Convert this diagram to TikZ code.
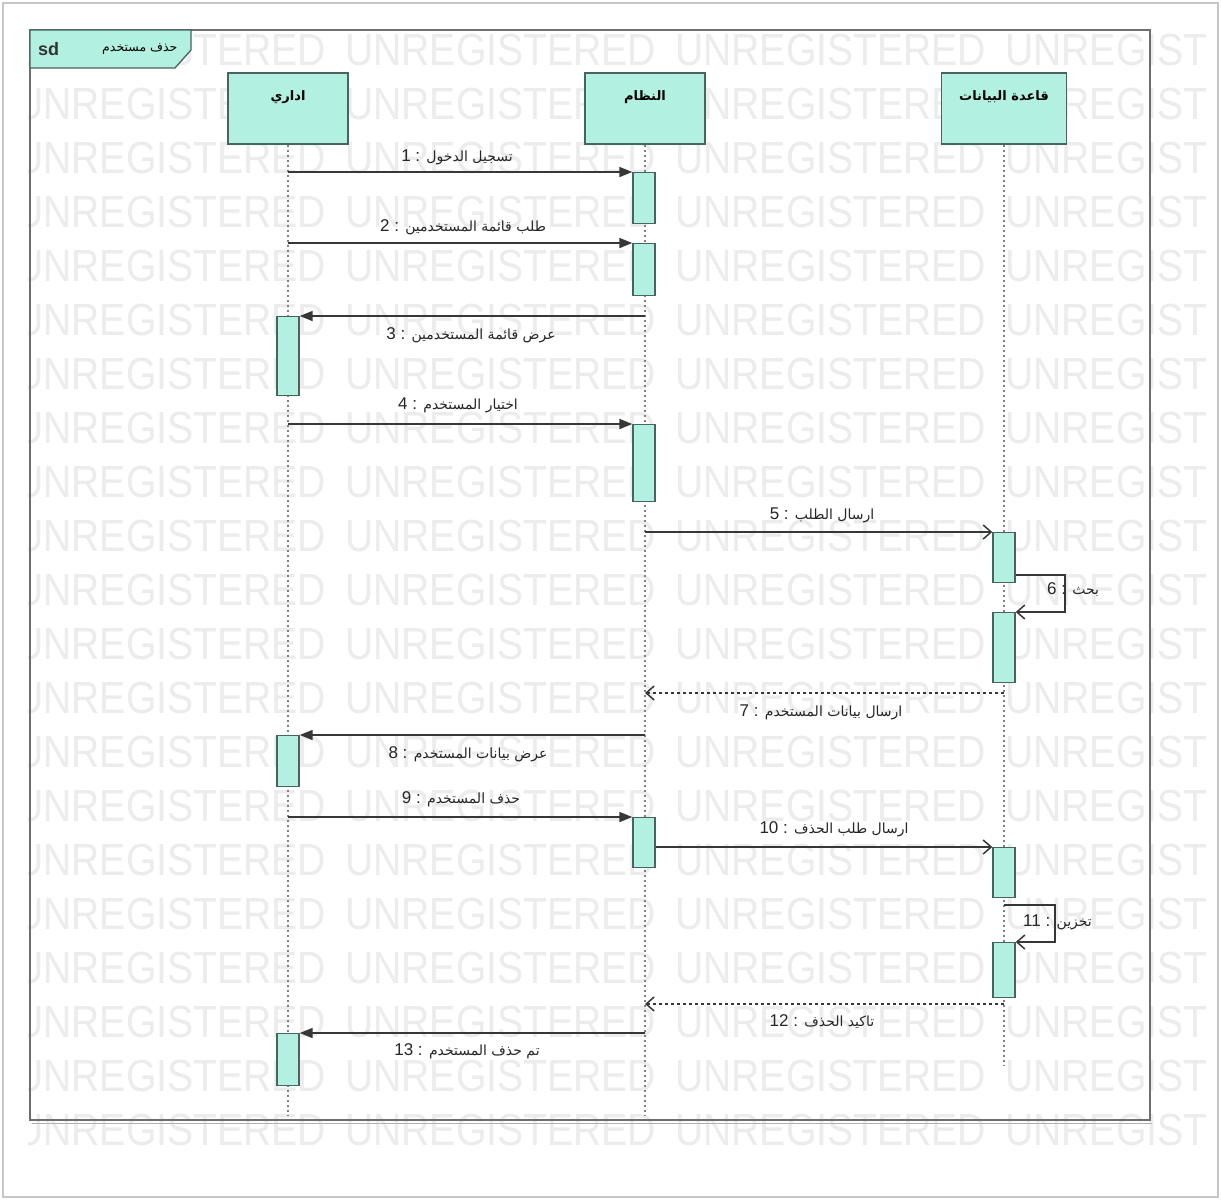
\documentclass[tikz,border=0pt]{standalone}
\usepackage{fontspec}
\setmainfont{Liberation Sans}
\newfontfamily\arabicfont[Script=Arabic]{DejaVu Sans}
\TeXXeTstate=1
\usetikzlibrary{arrows.meta}
\newcommand{\artxt}[1]{{\arabicfont\fontsize{14}{16}\selectfont\beginR #1\endR}}
\newcommand{\arhead}[1]{{\arabicfont\fontsize{13}{15}\selectfont\bfseries\beginR #1\endR}}
\newcommand{\artab}[1]{{\arabicfont\fontsize{12.5}{15}\selectfont\beginR #1\endR}}
\definecolor{actfill}{RGB}{178,240,226}
\definecolor{actdraw}{RGB}{70,100,96}
\definecolor{wmc}{RGB}{236,236,236}
\definecolor{msgc}{RGB}{55,55,55}
\definecolor{framec}{RGB}{110,110,110}
\tikzset{
  wmtext/.style={font=\fontsize{45}{45}\selectfont, text=wmc, xscale=0.87, inner sep=0, anchor=west},
  headbox/.style={draw=actdraw, fill=actfill, line width=1.6, minimum width=120, minimum height=71, inner sep=0, anchor=north},
  htext/.style={inner sep=1},
  actbox/.style={draw=actdraw, fill=actfill, line width=1.4, minimum width=22, inner sep=0, anchor=north},
  life/.style={draw=gray, line width=1.4, dash pattern=on 2pt off 3pt},
  sync/.style={draw=msgc, line width=1.7, -{Triangle[length=13pt,width=10pt]}},
  asyncm/.style={draw=msgc, line width=1.5, -{Straight Barb[length=8pt,width=14pt]}},
  retm/.style={draw=msgc, line width=1.5, dash pattern=on 3pt off 3pt, -{Straight Barb[length=8pt,width=14pt]}},
  lbl/.style={font=\fontsize{17}{19}\selectfont, text=black!85, inner sep=1}
}
\begin{document}
\begin{tikzpicture}[x=1pt,y=-1pt]
\useasboundingbox (0,0) rectangle (1221,1200);
\fill[white] (0,0) rectangle (1221,1200);
\draw[gray!45, line width=1.5] (3,3) rectangle (1218,1197);
% watermark
\begin{scope}
\clip (28,32) rectangle (1205,1148);
\foreach \r in {0,...,20} {
  \foreach \c in {15,345,675,1005} {
    \node[wmtext] (wm-\r-\c) at (\c, 50+54*\r) {UNREGISTERED};
  }
}
\end{scope}
% frame
\draw[framec, line width=1.8] (30,30) rectangle (1150,1120);
\draw[gray!60, line width=1.4] (32,1123.5) -- (1152,1123.5);
\draw[actdraw, fill=actfill, line width=1.3] (30,30) -- (191,30) -- (191,50) -- (175,68) -- (30,68) -- cycle;
\node[anchor=west, font=\fontsize{18}{20}\selectfont\bfseries, text=black!80, inner sep=0] (sdlbl) at (38,49) {sd};
\node[anchor=west, inner sep=0] (sdname) at (102,49) {\artab{حذف مستخدم}};
% lifeline heads
\node[headbox] (adm) at (288,72) {};
\node[headbox] (sys) at (645,72) {};
\node[headbox, minimum width=125] (db) at (1004,72) {};
\node[htext] (admT) at (288,97) {\arhead{اداري}};
\node[htext] (sysT) at (645,97) {\arhead{النظام}};
\node[htext] (dbT) at (1004,97) {\arhead{قاعدة البيانات}};
% lifelines
\coordinate (admE) at (288,1115);
\coordinate (sysE) at (645,1115);
\coordinate (dbE) at (1004,1065);
\draw[life] (adm.south) -- (admE);
\draw[life] (sys.south) -- (sysE);
\draw[life] (db.south) -- (dbE);
% activations
\node[actbox, minimum height=51] (s1) at (644,172) {};
\node[actbox, minimum height=52] (s2) at (644,243) {};
\node[actbox, minimum height=79] (a1) at (288,316) {};
\node[actbox, minimum height=77] (s3) at (644,424) {};
\node[actbox, minimum height=50] (d1) at (1004,532) {};
\node[actbox, minimum height=70] (d2) at (1004,612) {};
\node[actbox, minimum height=51] (a2) at (288,735) {};
\node[actbox, minimum height=50] (s4) at (644,817) {};
\node[actbox, minimum height=50] (d3) at (1004,847) {};
\node[actbox, minimum height=55] (d4) at (1004,942) {};
\node[actbox, minimum height=52] (a3) at (288,1033) {};
% messages
\draw[sync] (adm.south |- s1.north) -- (s1.north west);
\node[lbl] (l1) at (457,157) {1 : \artxt{تسجيل الدخول}};
\draw[sync] (adm.south |- s2.north) -- (s2.north west);
\node[lbl] (l2) at (463,227) {2 : \artxt{طلب قائمة المستخدمين}};
\draw[sync] (sys.south |- a1.north) -- (a1.north east);
\node[lbl] (l3) at (471,335) {3 : \artxt{عرض قائمة المستخدمين}};
\draw[sync] (adm.south |- s3.north) -- (s3.north west);
\node[lbl] (l4) at (458,405) {4 : \artxt{اختيار المستخدم}};
\draw[asyncm] (sys.south |- d1.north) -- (d1.north west);
\node[lbl] (l5) at (822,515) {5 : \artxt{ارسال الطلب}};
\coordinate (c6) at (1065,575);
\draw[asyncm] (d1.east |- c6) -- (c6) -- (c6 |- d2.north) -- (d2.north east);
\node[lbl, anchor=west] (l6) at (1046,590) {6 : \artxt{بحث}};
\coordinate (m7) at (1004,693);
\draw[retm] (m7) -- (sys.south |- m7);
\node[lbl] (l7) at (821,712) {7 : \artxt{ارسال بيانات المستخدم}};
\draw[sync] (sys.south |- a2.north) -- (a2.north east);
\node[lbl] (l8) at (468,754) {8 : \artxt{عرض بيانات المستخدم}};
\draw[sync] (adm.south |- s4.north) -- (s4.north west);
\node[lbl] (l9) at (461,799) {9 : \artxt{حذف المستخدم}};
\draw[asyncm] (s4.east |- d3.north) -- (d3.north west);
\node[lbl] (l10) at (834,829) {10 : \artxt{ارسال طلب الحذف}};
\coordinate (c11) at (1055,905);
\draw[asyncm] (db.south |- c11) -- (c11) -- (c11 |- d4.north) -- (d4.north east);
\node[lbl, anchor=west] (l11) at (1022,922) {11 : \artxt{تخزين}};
\coordinate (m12) at (1004,1004);
\draw[retm] (m12) -- (sys.south |- m12);
\node[lbl] (l12) at (822,1022) {12 : \artxt{تاكيد الحذف}};
\draw[sync] (sys.south |- a3.north) -- (a3.north east);
\node[lbl] (l13) at (467,1051) {13 : \artxt{تم حذف المستخدم}};
\end{tikzpicture}
\end{document}
